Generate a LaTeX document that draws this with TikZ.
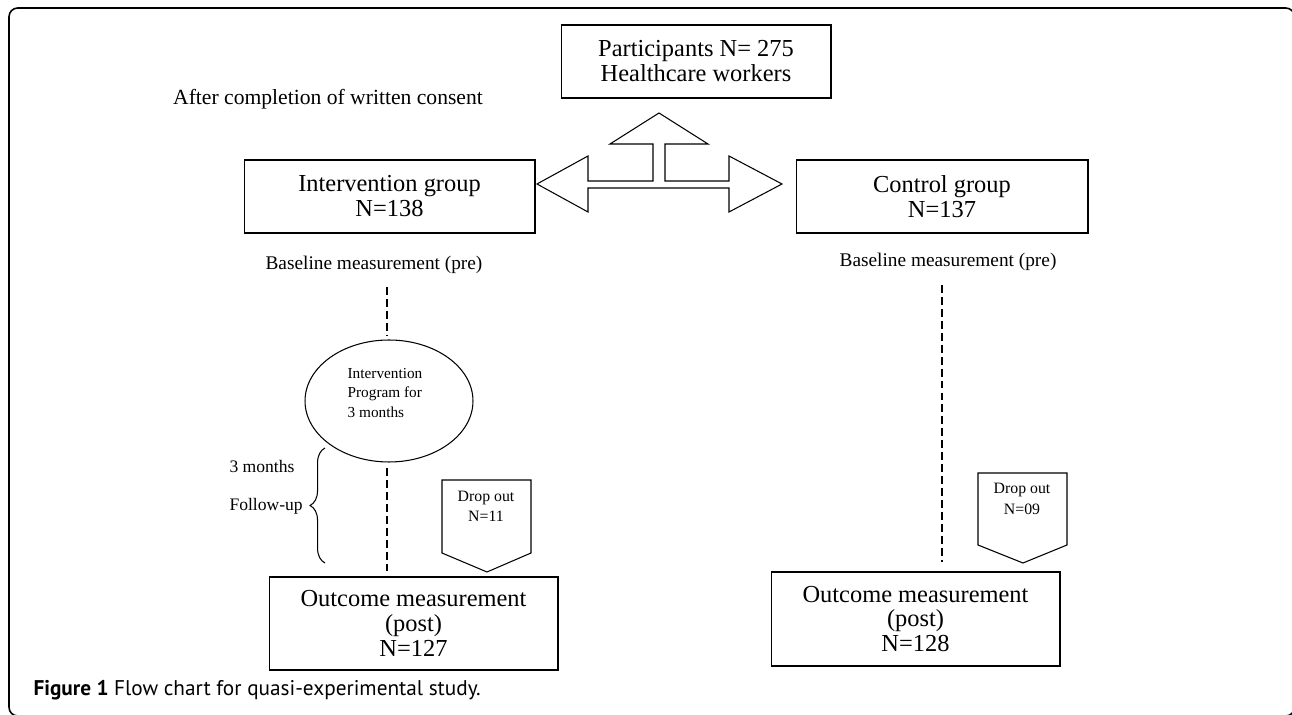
\documentclass[tikz,border=0pt]{standalone}
\usepackage{fontspec}
\setmainfont{Liberation Serif}
\newfontfamily\capfont{PT Sans}
\usetikzlibrary{shapes.geometric,decorations.pathreplacing}
\begin{document}
\begin{tikzpicture}[x=0.02cm,y=-0.02cm,line width=0.6pt,
  txt/.style={font=\fontsize{13.9}{14.2}\selectfont, inner sep=0pt, align=center},
  box/.style={draw, txt},
  mid/.style={font=\fontsize{11}{13}\selectfont, inner sep=0pt, align=center},
  side/.style={font=\fontsize{10}{12}\selectfont, inner sep=0pt},
  dashline/.style={dash pattern=on 4.5pt off 2.3pt},
  small/.style={font=\fontsize{8.7}{11}\selectfont, inner sep=0pt, align=left},
  dtxt/.style={font=\fontsize{9}{11.5}\selectfont, inner sep=0pt, align=center}]
\useasboundingbox (0,0) rectangle (1292,715);
\clip (0,0) rectangle (1292,715);
% frame
\draw[line width=0.9pt, rounded corners=5pt] (9,716) -- (9,8) -- (1294.5,8) -- (1294.5,716) -- cycle;
% boxes
\node[box, minimum width=5.4cm, minimum height=1.46cm] (part) at (696,61.5) {Participants N= 275\\Healthcare workers};
\node[font=\fontsize{12.3}{14}\selectfont, inner sep=0pt] (consent) at (328,99) {After completion of written consent};
\node[box, minimum width=5.82cm, minimum height=1.46cm] (int) at (389.5,196.5) {Intervention group\\N=138};
\node[box, minimum width=5.84cm, minimum height=1.46cm] (ctl) at (942,196.5) {Control group\\N=137};
\node[mid] (basel) at (374,265) {Baseline measurement (pre)};
\node[mid] (baser) at (948,262) {Baseline measurement (pre)};
\node[draw, ellipse, minimum width=3.36cm, minimum height=2.44cm, inner sep=0pt] (prog) at (389,401) {};
\node[small] (progtxt) at (385,393) {Intervention\\Program for\\3 months};
\node[box, minimum width=5.78cm, minimum height=1.86cm] (outl) at (413.5,623.5) {Outcome measurement\\(post)\\N=127};
\node[box, minimum width=5.78cm, minimum height=1.88cm] (outr) at (915.5,619) {Outcome measurement\\(post)\\N=128};
% three-way arrow
\draw (659,113) -- (708,144) -- (665,144) -- (665,181) -- (729,181) -- (729,156) -- (782,184)
  -- (729,212) -- (729,188) -- (588,188) -- (588,212) -- (537,184) -- (588,156) -- (588,181)
  -- (653,181) -- (653,144) -- (610,144) -- cycle;
% dashed lines
\coordinate (a1) at (387,287); \coordinate (a2) at (387,335);
\coordinate (b1) at (387,468); \coordinate (b2) at (387,572);
\coordinate (c1) at (942,285); \coordinate (c2) at (942,562);
\draw[dashline] (a1) -- (a2);
\draw[dashline] (b1) -- (b2);
\draw[dashline] (c1) -- (c2);
% brace
\coordinate (br1) at (325,563); \coordinate (br2) at (325,448);
\draw[decorate, decoration={brace, amplitude=8.5pt}] (br1) -- (br2);
\node[side, anchor=west] (m3) at (229,466) {3 months};
\node[side, anchor=west] (fu) at (229,506) {Follow-up};
% drop outs
\draw (442,480) -- (531,480) -- (531,553) -- (487,572) -- (442,553) -- cycle;
\node[dtxt] (d1) at (486,506) {Drop out\\N=11};
\draw (978,473) -- (1067,473) -- (1067,545) -- (1023,563) -- (978,545) -- cycle;
\node[dtxt] (d2) at (1022,499) {Drop out\\N=09};
% caption
\node[anchor=base west, inner sep=0pt, font=\capfont\fontsize{12.1}{14}\selectfont] (cap) at (33,696) {\textbf{Figure 1} Flow chart for quasi-experimental study.};
\end{tikzpicture}
\end{document}
